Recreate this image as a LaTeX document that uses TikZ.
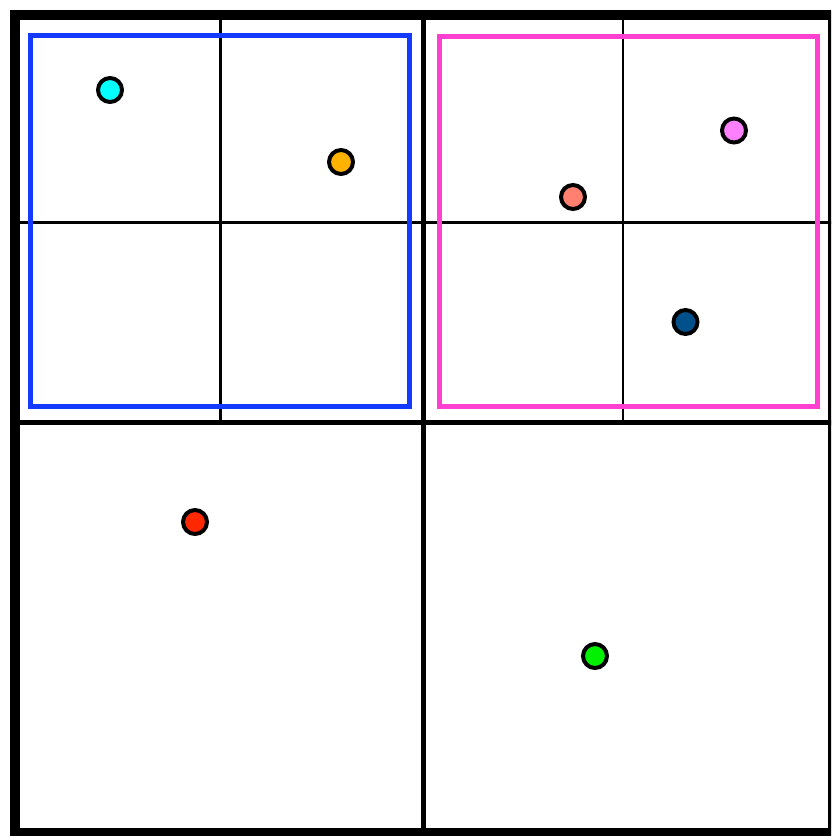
\documentclass[tikz,border=0pt]{standalone}
\definecolor{bluebox}{RGB}{20,58,255}
\definecolor{magbox}{RGB}{255,64,208}
\definecolor{dcyan}{RGB}{0,255,255}
\definecolor{dorange}{RGB}{255,178,0}
\definecolor{dsalmon}{RGB}{255,128,112}
\definecolor{dpink}{RGB}{255,128,255}
\definecolor{dnavy}{RGB}{0,80,140}
\definecolor{dred}{RGB}{255,40,0}
\definecolor{dgreen}{RGB}{0,240,0}
\tikzset{
  frame/.style={line width=10pt, draw=black},
  midline/.style={line width=5.5pt, draw=black},
  thinline/.style={line width=2.3pt, draw=black},
  region/.style={line width=5pt},
  dot/.style={circle, draw=black, line width=4pt, minimum size=24pt, inner sep=0pt}
}
\begin{document}
\begin{tikzpicture}[x=1pt,y=-1pt]
\useasboundingbox (0,0) rectangle (831,836);
\clip (0,0) rectangle (831,836);
\fill[white] (0,0) rectangle (831,836);
% thin subdivisions
\draw[thinline] (220.5,14.7) -- (220.5,423);
\draw[thinline] (623,14.7) -- (623,423);
\draw[thinline] (14.7,222.5) -- (833,222.5);
% middle lines
\draw[midline] (423.5,14.7) -- (423.5,833);
\draw[midline] (14.7,422.5) -- (833,422.5);
% outer frame
\draw[frame] (14.7,14.7) rectangle (833,833);
% regions
\draw[region, draw=bluebox] (30.7,35.8) rectangle (409.5,406);
\draw[region, draw=magbox] (439,36) rectangle (817,406);
% dots
\node[dot, fill=dcyan] (cyan) at (110,90) {};
\node[dot, fill=dorange] (orange) at (341,162) {};
\node[dot, fill=dsalmon] (salmon) at (573,197) {};
\node[dot, fill=dpink] (pink) at (734,130.5) {};
\node[dot, fill=dnavy] (navy) at (685.5,322) {};
\node[dot, fill=dred] (red) at (195,522) {};
\node[dot, fill=dgreen] (green) at (595,656) {};
\end{tikzpicture}
\end{document}
